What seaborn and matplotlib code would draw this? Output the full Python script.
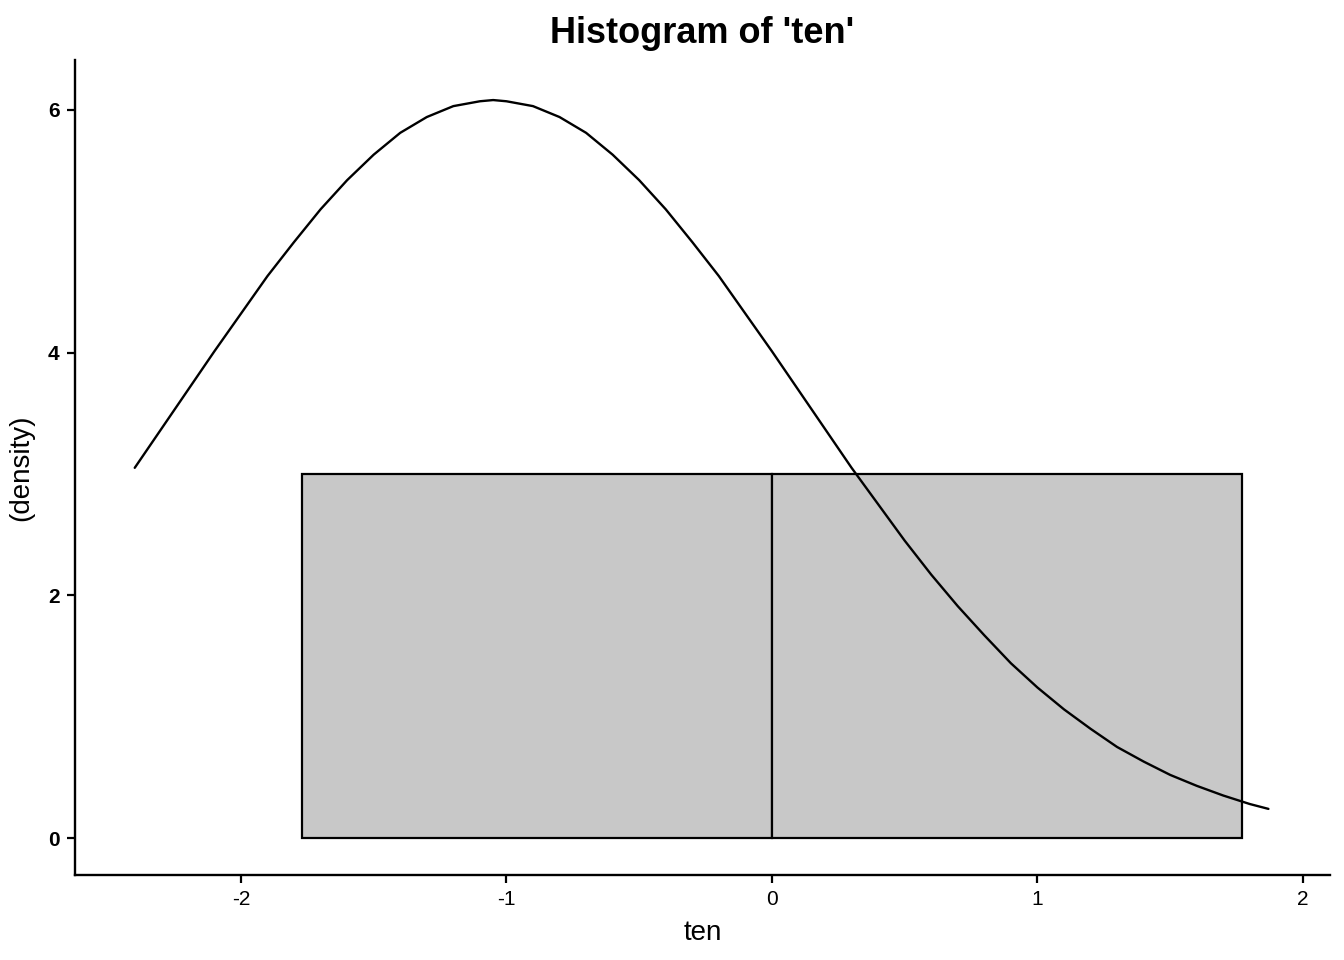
import numpy as np
import pandas as pd
import matplotlib
matplotlib.use("Agg")
import matplotlib.pyplot as plt
import seaborn as sns

# ---------------- DATA ----------------
bin_edges = [-1.77, 0.0, 1.77]
bin_centers = [-0.885, 0.885]
bin_heights = [3.0, 3.0]

# density curve, values
curve_x = [-2.40, -2.30, -2.20, -2.10, -2.00, -1.90, -1.80, -1.70, -1.60,
           -1.50, -1.40, -1.30, -1.20, -1.10, -1.05, -1.00, -0.90, -0.80,
           -0.70, -0.60, -0.50, -0.40, -0.30, -0.20, -0.10, 0.00, 0.10,
           0.20, 0.30, 0.40, 0.50, 0.60, 0.70, 0.80, 0.90, 1.00, 1.10,
           1.20, 1.30, 1.40, 1.50, 1.60, 1.70, 1.80, 1.87]
curve_y = [3.05, 3.37, 3.69, 4.01, 4.32, 4.63, 4.91, 5.18, 5.42,
           5.63, 5.81, 5.94, 6.03, 6.07, 6.08, 6.07, 6.03, 5.94,
           5.81, 5.63, 5.42, 5.18, 4.91, 4.63, 4.32, 4.01, 3.69,
           3.37, 3.05, 2.75, 2.45, 2.17, 1.91, 1.67, 1.44, 1.24, 1.06,
           0.90, 0.75, 0.63, 0.52, 0.43, 0.35, 0.28, 0.24]

x_ticks = [-2, -1, 0, 1, 2]
y_ticks = [0, 2, 4, 6]

# ---------------- STYLE ----------------
sns.set_theme(style="ticks")
plt.rcParams["font.family"] = ["Liberation Sans", "DejaVu Sans"]
plt.rcParams["text.color"] = "black"
plt.rcParams["axes.labelcolor"] = "black"

fig = plt.figure(figsize=(13.44, 9.6), dpi=100)
ax = fig.add_axes([0.0558, 0.0885, 0.9338, 0.849])

hist_df = pd.DataFrame({"ten": bin_centers, "w": bin_heights})
sns.histplot(
    data=hist_df,
    x="ten",
    weights="w",
    bins=bin_edges,
    stat="count",
    color="#C8C8C8",
    alpha=1,
    edgecolor="black",
    linewidth=1.6,
    ax=ax,
)

curve_df = pd.DataFrame({"x": curve_x, "y": curve_y})
sns.lineplot(data=curve_df, x="x", y="y", color="black", linewidth=1.7,
             sort=False, estimator=None, ax=ax)

ax.set_xlim(-2.625, 2.102)
ax.set_ylim(-0.305, 6.41)
ax.set_xticks(x_ticks)
ax.set_yticks(y_ticks)
ax.set_xticklabels([str(t) for t in x_ticks], fontsize=15)
ax.set_yticklabels([str(t) for t in y_ticks], fontsize=15, fontweight="bold")
ax.tick_params(axis="both", direction="out", length=6, width=1.6,
               color="black", labelcolor="black", pad=5)

for side in ["top", "right"]:
    ax.spines[side].set_visible(False)
for side in ["left", "bottom"]:
    ax.spines[side].set_linewidth(1.7)
    ax.spines[side].set_color("black")

ax.set_xlabel("ten", fontsize=20, color="black", labelpad=8)
ax.set_ylabel("(density)", fontsize=20, color="black", labelpad=10)
ax.set_title("Histogram of 'ten'", fontsize=26, fontweight="bold",
             color="black", pad=12)

fig.savefig("out.png", dpi=100)
